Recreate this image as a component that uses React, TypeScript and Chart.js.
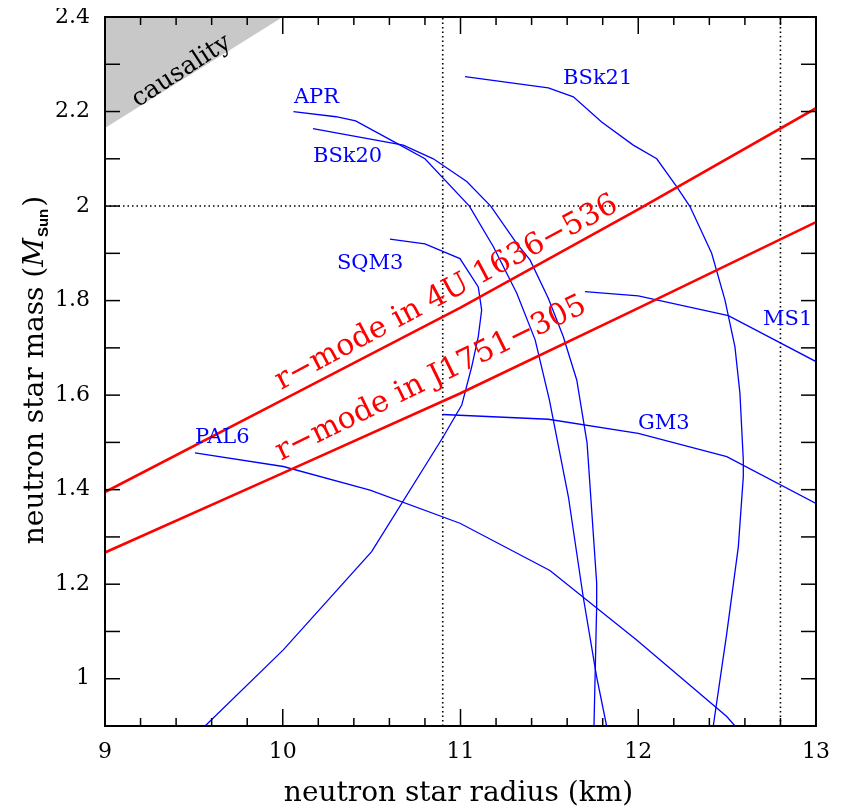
import React, { useEffect, useRef } from 'react';
import { Chart, registerables } from 'chart.js';

Chart.register(...registerables);

// ---------- data (radius in km, mass in solar masses) ----------
const APR_R = [10.06, 10.30, 10.41, 10.645, 10.80, 11.05, 11.185, 11.316, 11.42, 11.50, 11.607, 11.69, 11.766, 11.822];
const APR_M = [2.20, 2.189, 2.18, 2.132, 2.10, 2.00, 1.914, 1.816, 1.717, 1.59, 1.385, 1.174, 1.004, 0.90];

const BSK20_R = [10.17, 10.678, 10.847, 11.035, 11.17, 11.316, 11.391, 11.494, 11.578, 11.654, 11.712, 11.766, 11.766, 11.751];
const BSK20_M = [2.164, 2.129, 2.10, 2.052, 2.00, 1.921, 1.886, 1.805, 1.724, 1.632, 1.499, 1.203, 1.152, 0.90];

const BSK21_R = [11.025, 11.494, 11.635, 11.794, 11.972, 12.104, 12.216, 12.291, 12.413, 12.488, 12.544, 12.572, 12.591, 12.591, 12.563, 12.498, 12.422];
const BSK21_M = [2.274, 2.25, 2.231, 2.178, 2.129, 2.10, 2.041, 1.999, 1.90, 1.801, 1.702, 1.604, 1.463, 1.427, 1.279, 1.096, 0.90];

const SQM3_R = [10.603, 10.80, 10.997, 11.10, 11.119, 11.10, 11.063, 11.007, 10.903, 10.50, 10.003, 9.563];
const SQM3_M = [1.93, 1.92, 1.889, 1.829, 1.78, 1.724, 1.66, 1.579, 1.512, 1.269, 1.061, 0.90];

const GM3_R = [10.90, 11.494, 12.0, 12.498, 13.0];
const GM3_M = [1.559, 1.549, 1.519, 1.47, 1.371];

const MS1_R = [11.70, 12.0, 12.507, 13.0];
const MS1_M = [1.819, 1.81, 1.768, 1.671];

const PAL6_R = [9.506, 10.003, 10.491, 10.997, 11.503, 11.991, 12.498, 12.544];
const PAL6_M = [1.478, 1.449, 1.399, 1.329, 1.229, 1.082, 0.92, 0.90];

const RMODE_4U_R = [9, 10, 11, 12, 13];
const RMODE_4U_M = [1.395, 1.59, 1.785, 1.993, 2.207];

const RMODE_J_R = [9, 10, 11, 12, 13];
const RMODE_J_M = [1.267, 1.435, 1.604, 1.784, 1.966];

const CAUSALITY_R = [9, 10];
const CAUSALITY_M = [2.165, 2.4];

const DOTTED_R = [10.9, 12.8];
const DOTTED_M = [2.0];

const X_MIN = 9, X_MAX = 13, Y_MIN = 0.9, Y_MAX = 2.4;

const EOS_LABELS = ['APR', 'BSk20', 'BSk21', 'SQM3', 'MS1', 'GM3', 'PAL6'];
const EOS_LABEL_R = [10.063, 10.17, 11.577, 10.305, 12.702, 11.999, 9.506];
const EOS_LABEL_M = [2.218, 2.093, 2.258, 1.867, 1.748, 1.528, 1.499];

const RMODE_LABELS = ['r\u2212mode in 4U 1636\u2212536', 'r\u2212mode in J1751\u2212305'];
const RMODE_LABEL_R = [9.99, 9.99];
const RMODE_LABEL_M = [1.611, 1.461];
const RMODE_LABEL_ANGLE = [-28.0, -26.0];

const X_TITLE = 'neutron star radius (km)';
const Y_TITLE_MAIN = 'neutron star mass (';
const Y_TITLE_SYMBOL = 'M';
const Y_TITLE_SUB = 'Sun';
const Y_TITLE_END = ')';

const SERIF = '"DejaVu Serif", serif';

const pts = (rs: number[], ms: number[]) => rs.map((r, i) => ({ x: r, y: ms[i] }));

const overlayPlugin = {
  id: 'overlay',
  afterDatasetsDraw(chart: any) {
    const { ctx, chartArea: a, scales } = chart;
    const xs = scales.x;
    const ys = scales.y;
    ctx.save();

    // causality label
    ctx.fillStyle = '#000';
    ctx.font = `25px ${SERIF}`;
    ctx.textAlign = 'center';
    ctx.textBaseline = 'middle';
    ctx.save();
    ctx.translate(xs.getPixelForValue(9.43), ys.getPixelForValue(2.285));
    ctx.rotate((-33 * Math.PI) / 180);
    ctx.fillText('causality', 0, 0);
    ctx.restore();

    // EOS labels
    ctx.fillStyle = '#0000ff';
    ctx.font = `21px ${SERIF}`;
    ctx.textAlign = 'left';
    ctx.textBaseline = 'alphabetic';
    EOS_LABELS.forEach((t, i) => {
      ctx.fillText(t, xs.getPixelForValue(EOS_LABEL_R[i]), ys.getPixelForValue(EOS_LABEL_M[i]));
    });

    // r-mode labels
    ctx.fillStyle = '#ff0000';
    ctx.font = `30px ${SERIF}`;
    RMODE_LABELS.forEach((t, i) => {
      ctx.save();
      ctx.translate(xs.getPixelForValue(RMODE_LABEL_R[i]), ys.getPixelForValue(RMODE_LABEL_M[i]));
      ctx.rotate((RMODE_LABEL_ANGLE[i] * Math.PI) / 180);
      ctx.fillText(t, 0, 0);
      ctx.restore();
    });

    // frame
    ctx.strokeStyle = '#000';
    ctx.lineWidth = 2;
    ctx.strokeRect(a.left, a.top, a.right - a.left, a.bottom - a.top);

    // ticks on all four sides
    ctx.lineWidth = 1.5;
    const seg = (x1: number, y1: number, x2: number, y2: number) => {
      ctx.beginPath();
      ctx.moveTo(x1, y1);
      ctx.lineTo(x2, y2);
      ctx.stroke();
    };
    for (let i = 0; i <= 20; i++) {
      const v = X_MIN + i * 0.2;
      const px = xs.getPixelForValue(v);
      const len = i % 5 === 0 ? 17 : 8;
      seg(px, a.bottom, px, a.bottom - len);
      seg(px, a.top, px, a.top + len);
    }
    for (let i = 0; i <= 15; i++) {
      const v = Y_MIN + i * 0.1;
      const py = ys.getPixelForValue(v);
      const len = 15;
      seg(a.left, py, a.left + len, py);
      seg(a.right, py, a.right - len, py);
    }

    // x title
    ctx.fillStyle = '#000';
    ctx.font = `28px ${SERIF}`;
    ctx.textAlign = 'center';
    ctx.textBaseline = 'alphabetic';
    ctx.fillText(X_TITLE, (a.left + a.right) / 2 - 2, 792.5);

    // y title (rotated, with subscript)
    ctx.save();
    ctx.translate(35, 362);
    ctx.rotate(-Math.PI / 2);
    ctx.textAlign = 'left';
    const fMain = `28px ${SERIF}`;
    const fSym = `italic 28px ${SERIF}`;
    const fSub = `bold 15px "Liberation Sans", sans-serif`;
    ctx.font = fMain;
    const w1 = ctx.measureText(Y_TITLE_MAIN).width;
    const w4 = ctx.measureText(Y_TITLE_END).width;
    ctx.font = fSym;
    const w2 = ctx.measureText(Y_TITLE_SYMBOL).width;
    ctx.font = fSub;
    const w3 = ctx.measureText(Y_TITLE_SUB).width;
    const total = w1 + w2 + w3 + w4 + 3;
    let cx = -total / 2;
    ctx.font = fMain;
    ctx.fillText(Y_TITLE_MAIN, cx, 0);
    cx += w1;
    ctx.font = fSym;
    ctx.fillText(Y_TITLE_SYMBOL, cx, 0);
    cx += w2 + 1;
    ctx.font = fSub;
    ctx.fillText(Y_TITLE_SUB, cx, 5);
    cx += w3 + 2;
    ctx.font = fMain;
    ctx.fillText(Y_TITLE_END, cx, 0);
    ctx.restore();

    ctx.restore();
  },
};

export default function App() {
  const ref = useRef<HTMLCanvasElement | null>(null);

  useEffect(() => {
    if (!ref.current) return;
    const blue = '#0000ff';
    const red = '#ff0000';
    const curve = (label: string, rs: number[], ms: number[]) => ({
      label,
      data: pts(rs, ms),
      borderColor: blue,
      borderWidth: 1.3,
      showLine: true,
      pointRadius: 0,
      fill: false,
      order: 2,
    });
    const dotted = (data: { x: number; y: number }[]) => ({
      label: 'dotted',
      data,
      borderColor: '#000',
      borderWidth: 1.6,
      borderDash: [1.5, 3],
      showLine: true,
      pointRadius: 0,
      fill: false,
      order: 5,
    });

    const chart = new Chart(ref.current, {
      type: 'scatter',
      data: {
        datasets: [
          {
            label: 'causality',
            data: pts(CAUSALITY_R, CAUSALITY_M),
            borderWidth: 0,
            borderColor: 'rgba(0,0,0,0)',
            backgroundColor: '#c8c8c8',
            showLine: true,
            pointRadius: 0,
            fill: 'end',
            order: 10,
          } as any,
          dotted([{ x: DOTTED_R[0], y: Y_MIN }, { x: DOTTED_R[0], y: Y_MAX }]),
          dotted([{ x: DOTTED_R[1], y: Y_MIN }, { x: DOTTED_R[1], y: Y_MAX }]),
          dotted([{ x: X_MIN, y: DOTTED_M[0] }, { x: X_MAX, y: DOTTED_M[0] }]),
          curve('APR', APR_R, APR_M),
          curve('BSk20', BSK20_R, BSK20_M),
          curve('BSk21', BSK21_R, BSK21_M),
          curve('SQM3', SQM3_R, SQM3_M),
          curve('GM3', GM3_R, GM3_M),
          curve('MS1', MS1_R, MS1_M),
          curve('PAL6', PAL6_R, PAL6_M),
          {
            label: 'r-mode 4U 1636-536',
            data: pts(RMODE_4U_R, RMODE_4U_M),
            borderColor: red,
            borderWidth: 2.6,
            showLine: true,
            pointRadius: 0,
            fill: false,
            order: 1,
          },
          {
            label: 'r-mode J1751-305',
            data: pts(RMODE_J_R, RMODE_J_M),
            borderColor: red,
            borderWidth: 2.6,
            showLine: true,
            pointRadius: 0,
            fill: false,
            order: 1,
          },
        ] as any,
      },
      options: {
        animation: false,
        responsive: false,
        maintainAspectRatio: false,
        layout: { padding: { top: 9, right: 18, left: 0, bottom: 0 } },
        plugins: {
          legend: { display: false },
          tooltip: { enabled: false },
          title: { display: false },
        },
        scales: {
          x: {
            type: 'linear',
            min: X_MIN,
            max: X_MAX,
            grid: { display: false, drawTicks: false },
            border: { display: false },
            ticks: {
              stepSize: 1,
              autoSkip: false,
              maxRotation: 0,
              padding: 13,
              color: '#000',
              font: { family: 'DejaVu Serif', size: 22 },
            },
            afterFit: (s: any) => {
              s.height = 80;
              s.paddingLeft = 0;
              s.paddingRight = 0;
            },
          },
          y: {
            type: 'linear',
            min: Y_MIN,
            max: Y_MAX,
            grid: { display: false, drawTicks: false },
            border: { display: false },
            ticks: {
              stepSize: 0.1,
              autoSkip: false,
              padding: 15,
              color: '#000',
              font: { family: 'DejaVu Serif', size: 22 },
              callback: (v: any) => {
                const n = Math.round(Number(v) * 10);
                return n % 2 === 0 ? String(n / 10) : '';
              },
            },
            afterFit: (s: any) => {
              s.width = 97;
              s.paddingTop = 0;
              s.paddingBottom = 0;
            },
          },
        },
      } as any,
      plugins: [overlayPlugin],
    });
    return () => chart.destroy();
  }, []);

  return (
    <div style={{ position: 'absolute', left: 8, top: 8, width: 826, height: 798 }}>
      <canvas ref={ref} width={826} height={798} style={{ display: 'block' }} />
    </div>
  );
}
